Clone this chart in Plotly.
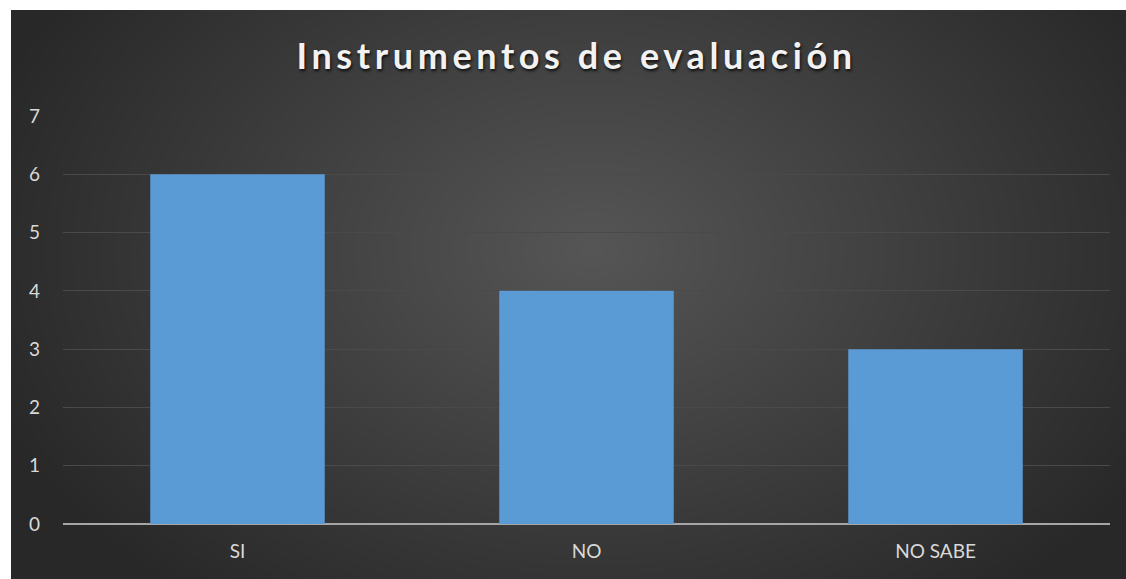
import base64, struct, zlib
import numpy as np
import plotly.graph_objects as go

categories = ["SI", "NO", "NO SABE"]
values = [6, 4, 3]
y_ticks = [0, 1, 2, 3, 4, 5, 6, 7]

# radial gradient background image (styling only)
W, H = 446, 228
yy, xx = np.mgrid[0:H, 0:W]
cx, cy = W * 0.52, H * 0.42
d = np.sqrt(((xx - cx) / (W * 0.58)) ** 2 + ((yy - cy) / (H * 0.8)) ** 2)
d = np.clip(d, 0, 1)
val = (0x56 * (1 - d) + 0x28 * d).astype(np.uint8)
raw = b"".join(b"\x00" + bytes(np.repeat(val[r], 3)) for r in range(H))
def chunk(t, data):
    c = struct.pack(">I", len(data)) + t + data
    return c + struct.pack(">I", zlib.crc32(t + data) & 0xffffffff)
png = b"\x89PNG\r\n\x1a\n" + chunk(b"IHDR", struct.pack(">IIBBBBB", W, H, 8, 2, 0, 0, 0)) \
      + chunk(b"IDAT", zlib.compress(raw, 9)) + chunk(b"IEND", b"")
uri = "data:image/png;base64," + base64.b64encode(png).decode()

L, R, T, B = 63, 16, 116, 55
pw, ph = 1126 - L - R, 579 - T - B
x0 = (11 - L) / pw
x1 = (1126 - L) / pw
y1 = (579 - B - 10) / ph
y0 = (579 - B - 579) / ph

fig = go.Figure()
fig.add_trace(go.Bar(
    x=categories, y=values,
    marker=dict(color="#5b9bd5", line=dict(width=0)),
    hoverinfo="x+y",
))

fig.update_layout(
    width=1126, height=579,
    margin=dict(l=L, r=R, t=T, b=B),
    paper_bgcolor="white",
    plot_bgcolor="rgba(0,0,0,0)",
    bargap=0.5,
    showlegend=False,
    title=dict(
        text="Instrumentos de evaluación",
        x=0.512, xanchor="center", y=0.902, yanchor="middle",
        font=dict(family="Lato", size=36, color="#f2f2f2", weight="bold",
                  shadow="1px 2px 3px rgba(0,0,0,0.8)"),
    ),
    images=[dict(source=uri, xref="paper", yref="paper", x=x0, y=y1,
                 sizex=x1 - x0, sizey=y1 - y0, sizing="stretch",
                 xanchor="left", yanchor="top", layer="below")],
    xaxis=dict(
        showgrid=False, showline=False, ticks="", ticklabelstandoff=14,
        tickfont=dict(family="Lato", size=19, color="#d9d9d9"),
    ),
    yaxis=dict(
        range=[0, 7], tickvals=y_ticks, showgrid=True, gridcolor="#4a4a4a",
        gridwidth=1, zeroline=True, zerolinecolor="#a6a6a6", zerolinewidth=2,
        showline=False, ticks="", ticklabelstandoff=22,
        tickfont=dict(family="Lato", size=19, color="#d9d9d9"),
    ),
)
post = ("document.body.style.margin='0';"
        "document.querySelectorAll('.gtitle').forEach(function(e){"
        "e.style.letterSpacing='4.6px';});")
fig.write_html("out.html", post_script=post, config={"displayModeBar": False})
